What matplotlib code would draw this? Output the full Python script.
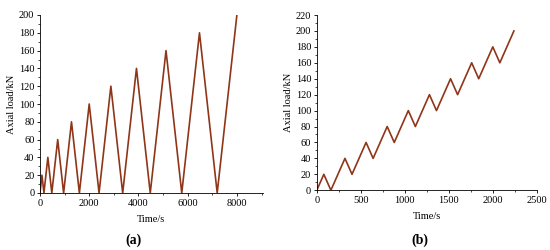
import numpy as np
from matplotlib import pyplot as plt
from matplotlib.ticker import AutoMinorLocator

# (a) load/unload cycles back to zero
time_a = [0, 80, 160, 320, 480, 720, 960, 1280, 1600, 2000, 2400,
          2880, 3360, 3920, 4480, 5120, 5760, 6480, 7200, 8000]
load_a = [0, 20, 0, 40, 0, 60, 0, 80, 0, 100, 0,
          120, 0, 140, 0, 160, 0, 180, 0, 200]

# (b) load/unload cycles of 20 kN
time_b = [0, 80, 160, 320, 400, 560, 640, 800, 880, 1040, 1120,
          1280, 1360, 1520, 1600, 1760, 1840, 2000, 2080, 2240]
load_b = [0, 20, 0, 40, 20, 60, 40, 80, 60, 100, 80,
          120, 100, 140, 120, 160, 140, 180, 160, 200]

plt.rcParams['font.family'] = ['Liberation Serif', 'DejaVu Serif']
plt.rcParams['font.size'] = 7.5
line_color = '#8f3518'

fig = plt.figure(figsize=(5.5, 2.5), dpi=100)
ax1 = fig.add_axes([0.0727, 0.228, 0.405, 0.712])
ax2 = fig.add_axes([0.576, 0.239, 0.400, 0.701])

def style(ax):
    for s in ['top', 'right']:
        ax.spines[s].set_visible(False)
    for s in ['left', 'bottom']:
        ax.spines[s].set_linewidth(0.6)
    ax.tick_params(direction='out', length=2.5, width=0.6, pad=1.5)
    ax.tick_params(which='minor', length=1.5, width=0.5)
    ax.xaxis.set_minor_locator(AutoMinorLocator(2))
    ax.yaxis.set_minor_locator(AutoMinorLocator(2))
    ax.set_xlabel('Time/s', labelpad=5)
    ax.set_ylabel('Axial load/kN', labelpad=2)

ax1.plot(time_a, load_a, color=line_color, lw=1.2)
ax1.set_xlim(0, 9050)
ax1.set_ylim(0, 200)
ax1.set_xticks([0, 2000, 4000, 6000, 8000])
ax1.set_yticks(np.arange(0, 201, 20))
style(ax1)

ax2.plot(time_b, load_b, color=line_color, lw=1.2)
ax2.set_xlim(0, 2500)
ax2.set_ylim(0, 220)
ax2.set_xticks([0, 500, 1000, 1500, 2000, 2500])
ax2.set_yticks(np.arange(0, 221, 20))
style(ax2)

fig.text(0.242, 0.04, '(a)', fontsize=10, fontweight='bold', ha='center', va='center')
fig.text(0.764, 0.04, '(b)', fontsize=10, fontweight='bold', ha='center', va='center')

fig.savefig('out.png', dpi=100)
